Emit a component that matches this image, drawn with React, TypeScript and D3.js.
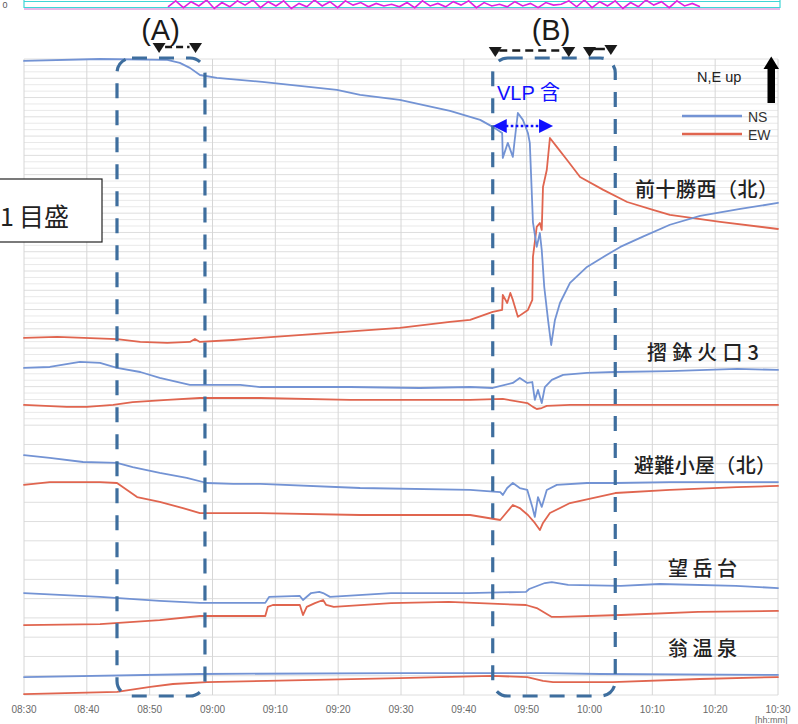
import React from 'react';
import * as d3 from 'd3';

// ---- time axis (minutes after 08:30) ----
const tickMinutes = [0, 10, 20, 30, 40, 50, 60, 70, 80, 90, 100, 110, 120];
const tickLabels = ['08:30', '08:40', '08:50', '09:00', '09:10', '09:20', '09:30', '09:40', '09:50', '10:00', '10:10', '10:20', '10:30'];

// ---- tilt traces: [minutes after 08:30, chart divisions] ----
const maetokachiNS: [number, number][] = [
  [0, 32.9], [12.1, 33.0], [22.8, 32.95], [24.8, 32.8], [26.4, 32.54], [28.0, 32.17], [30.7, 32.02],
  [37.9, 31.81], [49.8, 31.4], [53.5, 31.14], [59.8, 30.88], [67.8, 30.31], [72.6, 29.84], [74.6, 29.48],
  [76.1, 29.16], [76.2, 27.87], [77.0, 28.65], [77.8, 27.92], [78.1, 28.81], [78.6, 30.2], [79.4, 29.84],
  [80.2, 29.16], [80.5, 28.65], [81.0, 24.52], [81.6, 23.25], [82.1, 23.97], [82.4, 23.09], [82.8, 21.17],
  [83.4, 19.46], [83.9, 18.16], [84.5, 19.46], [85.3, 20.34], [86.9, 21.38], [89.6, 22.21], [92.2, 22.73],
  [94.9, 23.25], [98.5, 23.78], [102.8, 24.4], [107.6, 24.86], [114.0, 25.22], [120, 25.53],
];
const maetokachiEW: [number, number][] = [
  [0, 18.53], [5.3, 18.58], [14.8, 18.47], [18.5, 18.32], [22.8, 18.27], [26.4, 18.32], [27.2, 18.47],
  [28.0, 18.32], [33.3, 18.42], [37.6, 18.53], [48.7, 18.79], [59.8, 19.05], [67.8, 19.36], [71.0, 19.46],
  [74.6, 19.88], [76.1, 19.98], [76.2, 20.76], [76.9, 20.34], [77.4, 20.86], [77.8, 20.5], [78.6, 19.62],
  [80.2, 19.98], [80.9, 20.5], [81.0, 22.73], [81.6, 24.29], [82.1, 24.49], [82.4, 24.13], [82.6, 26.36],
  [83.2, 27.24], [83.7, 28.9], [84.8, 28.44], [86.4, 27.77], [88.5, 26.88], [92.2, 26.21], [96.0, 25.58],
  [100.1, 25.17], [102.8, 24.91], [110.8, 24.55], [120, 24.18],
];
const suribachiNS: [number, number][] = [
  [0, 16.97], [4.1, 17.02], [8.9, 17.28], [12.1, 17.23], [14.8, 16.97], [18.5, 16.76], [21.6, 16.45],
  [26.4, 16.09], [30.7, 16.09], [34.4, 16.09], [37.6, 15.98], [51.9, 15.98], [63.0, 15.93], [71.0, 15.98],
  [74.6, 15.93], [77.8, 16.19], [78.9, 16.45], [80.1, 16.19], [80.9, 16.24], [81.3, 15.31], [81.8, 15.83],
  [82.4, 15.15], [82.9, 15.98], [84.0, 16.35], [85.8, 16.61], [89.6, 16.71], [94.1, 16.76], [102.8, 16.81],
  [113.5, 16.92], [120, 16.87],
];
const suribachiEW: [number, number][] = [
  [0, 15.05], [6.8, 14.95], [10.0, 14.95], [14.2, 15.05], [17.3, 15.2], [22.8, 15.31], [28.0, 15.41],
  [37.6, 15.41], [51.9, 15.31], [71.0, 15.31], [76.2, 15.36], [80.1, 15.15], [81.0, 14.95], [81.6, 14.84],
  [82.4, 14.89], [83.2, 15.0], [86.9, 15.05], [97.6, 15.05], [120, 15.05],
];
const hinangoyaNS: [number, number][] = [
  [0, 12.45], [4.1, 12.3], [9.4, 12.09], [14.8, 12.04], [17.3, 11.83], [21.6, 11.52], [25.9, 11.26],
  [29.1, 11.0], [33.3, 10.95], [37.6, 10.95], [53.5, 10.74], [71.0, 10.64], [75.8, 10.53], [76.2, 10.38],
  [76.9, 10.74], [77.8, 11.0], [78.9, 10.74], [80.1, 10.64], [80.9, 9.76], [81.3, 9.24], [81.8, 10.27],
  [82.4, 9.76], [83.2, 10.64], [84.8, 10.9], [89.6, 11.0], [94.1, 11.0], [102.8, 11.05], [113.5, 11.05],
  [120, 11.05],
];
const hinangoyaEW: [number, number][] = [
  [0, 10.9], [4.1, 11.05], [12.1, 11.05], [14.8, 11.0], [16.4, 10.64], [18.0, 10.27], [21.6, 10.02],
  [25.3, 9.7], [28.0, 9.44], [33.3, 9.44], [37.6, 9.44], [53.5, 9.34], [71.0, 9.34], [75.8, 9.08],
  [77.8, 9.86], [78.9, 9.7], [80.2, 9.34], [81.3, 8.93], [82.1, 8.56], [82.6, 8.93], [83.7, 9.44],
  [86.9, 9.96], [94.1, 10.48], [102.8, 10.64], [113.5, 10.79], [120, 10.85],
];
const bogakudaiNS: [number, number][] = [
  [0, 5.29], [12.1, 5.09], [21.6, 4.88], [28.0, 4.78], [38.4, 4.78], [39.0, 5.09], [43.9, 5.14],
  [44.4, 4.93], [45.7, 5.29], [47.0, 5.35], [47.6, 5.29], [48.7, 5.09], [58.4, 5.29], [70.7, 5.29],
  [79.9, 5.35], [80.4, 5.5], [82.9, 5.81], [84.0, 5.86], [86.6, 5.71], [95.0, 5.66], [101.2, 5.76],
  [113.3, 5.66], [120, 5.55],
];
const bogakudaiEW: [number, number][] = [
  [0, 3.63], [12.1, 3.68], [21.6, 3.89], [28.0, 4.1], [38.4, 4.1], [38.8, 4.57], [39.6, 4.67],
  [43.9, 4.67], [44.4, 4.15], [45.0, 4.57], [46.3, 4.77], [47.6, 4.93], [48.1, 4.67], [49.3, 4.57],
  [58.4, 4.77], [67.6, 4.83], [79.9, 4.67], [81.6, 4.51], [84.0, 4.05], [85.3, 4.05], [95.0, 4.15],
  [107.3, 4.31], [120, 4.36],
];
const okinaNS: [number, number][] = [
  [0, 0.93], [28.0, 1.09], [59.8, 1.14], [82.6, 1.14], [91.7, 1.09], [120, 1.04],
];
const okinaEW: [number, number][] = [
  [0, 0.05], [14.8, 0.16], [20.1, 0.42], [23.7, 0.57], [29.1, 0.67], [38.7, 0.73], [59.8, 0.88],
  [74.6, 0.99], [80.1, 0.93], [82.6, 0.73], [84.2, 0.67], [93.7, 0.67], [107.6, 0.83], [120, 0.93],
];

// station names and the division their label sits on
const stationNames = ['前十勝西（北）', '摺鉢火口3', '避難小屋（北）', '望岳台', '翁温泉'];
const stationLabelDiv = [25.84, 17.38, 11.52, 6.18, 2.02];
const stationLabelStart = [635, 647, 634, 668, 668];
const stationLabelWidth = [143, 112, 142, 69, 69];

// event windows (minutes) and onset/offset markers
const windowA = [14.8, 28.8];
const windowB = [74.6, 94.1];
const markersA = [21.5, 27.3];
const markersB = [75.0, 86.7, 90.0, 93.4];
const vlpSpan = [74.6, 84.2];

// fragment of the panel above (amplitude 0..1)
const upperStrip = [
  0.2, 0.9, 0.1, 0.8, 0.3, 1.0, 0.0, 0.7, 0.2, 0.9, 0.4, 1.0, 0.1, 0.8, 0.3, 0.9, 0.0, 0.6,
  0.2, 1.0, 0.3, 0.8, 0.1, 0.9, 0.4, 0.7, 0.2, 0.6, 0.3, 0.5, 0.2, 0.7, 0.1, 0.9, 0.3, 0.6,
  0.2, 0.8, 0.4, 0.9, 0.1, 0.7, 0.3, 0.5, 0.2, 0.8, 0.3, 0.6, 0.1, 0.7, 0.4, 0.5,
  0.9, 0.2, 1.0, 0.1, 0.8, 0.3, 0.9, 0.0, 0.7, 0.2, 1.0, 0.4, 0.8, 0.1, 0.9, 0.3, 0.6, 0.2,
];

const NS_COLOR = '#7393d4';
const EW_COLOR = '#e0654f';
const BOX_COLOR = '#3e6e9e';

const x = d3.scaleLinear().domain([0, 120]).range([24, 778]);
const y = d3.scaleLinear().domain([0, 33]).range([695, 59]);
const line = d3.line<[number, number]>().x(d => x(d[0])).y(d => y(d[1]));

const traces: { data: [number, number][]; color: string }[] = [
  { data: maetokachiEW, color: EW_COLOR },
  { data: maetokachiNS, color: NS_COLOR },
  { data: suribachiNS, color: NS_COLOR },
  { data: suribachiEW, color: EW_COLOR },
  { data: hinangoyaNS, color: NS_COLOR },
  { data: hinangoyaEW, color: EW_COLOR },
  { data: bogakudaiNS, color: NS_COLOR },
  { data: bogakudaiEW, color: EW_COLOR },
  { data: okinaNS, color: NS_COLOR },
  { data: okinaEW, color: EW_COLOR },
];

const CJK = '"Noto Sans CJK JP", "Noto Sans", sans-serif';
const SANS = '"Liberation Sans", Arial, "Noto Sans CJK JP", sans-serif';

function DownTri({ cx, top }: { cx: number; top: number }) {
  return <polygon points={`${cx - 6.5},${top} ${cx + 6.5},${top} ${cx},${top + 10}`} fill="#1a1a1a" />;
}

function DashedWindow({ range }: { range: number[] }) {
  const x0 = x(range[0]);
  const x1 = x(range[1]);
  const y0 = y(33) - 1;
  const y1 = y(0) + 1;
  return (
    <rect x={x0} y={y0} width={x1 - x0} height={y1 - y0} rx={15} ry={15}
      fill="none" stroke={BOX_COLOR} strokeWidth={3.2} strokeDasharray="15 12" />
  );
}

export default function App() {
  // gridlines: dense in the upper panel, one per division below
  const hLines: { v: number; light: boolean }[] = [];
  for (let i = 0; i <= 33; i++) hLines.push({ v: i, light: false });
  for (let i = 14; i < 33; i++) {
    hLines.push({ v: i + 1 / 3, light: true });
    hLines.push({ v: i + 2 / 3, light: true });
  }
  const stripX = d3.scaleLinear().domain([0, upperStrip.length - 1]).range([168, 700]);
  const stripY = d3.scaleLinear().domain([0, 1]).range([8.5, 0]);
  const stripLine = d3.line<number>().x((_, i) => stripX(i)).y(v => stripY(v));

  return (
    <svg width={798} height={724} style={{ position: 'absolute', left: 0, top: 0, background: '#fff' }}>
      <rect x={0} y={0} width={798} height={724} fill="#fff" />

      {/* panel above */}
      <text x={5} y={8} fontSize={9} fill="#555" fontFamily={SANS} textAnchor="middle">0</text>
      <line x1={24} x2={780} y1={1.5} y2={1.5} stroke="#3fd6d6" strokeWidth={1.2} />
      <line x1={24} x2={780} y1={7.5} y2={7.5} stroke="#3fd6d6" strokeWidth={1.2} />
      <line x1={24} x2={24} y1={0} y2={8} stroke="#3fd6d6" strokeWidth={1.2} />
      <line x1={780} x2={780} y1={0} y2={8} stroke="#3fd6d6" strokeWidth={1.2} />
      <line x1={24} x2={780} y1={9} y2={9} stroke="#d070d0" strokeWidth={1} />
      <path d={stripLine(upperStrip) || ''} fill="none" stroke="#e020e0" strokeWidth={1.6} />

      {/* grid */}
      {hLines.map((h, i) => (
        <line key={'h' + i} x1={x(0)} x2={x(120)} y1={y(h.v)} y2={y(h.v)}
          stroke={h.light ? '#e9e9e9' : '#dedede'} strokeWidth={1} />
      ))}
      {tickMinutes.map(m => (
        <line key={'v' + m} x1={x(m)} x2={x(m)} y1={y(33)} y2={y(0)} stroke="#d6d6d6" strokeWidth={1} />
      ))}

      {/* tick labels */}
      {tickMinutes.map((m, i) => (
        <text key={'t' + m} x={x(m)} y={713} fontSize={10} fill="#6a6a6a" fontFamily={SANS} textAnchor="middle">
          {tickLabels[i]}
        </text>
      ))}
      <text x={755} y={723} fontSize={9} fill="#6a6a6a" fontFamily={SANS}>[hh:mm]</text>

      {/* traces */}
      {traces.map((t, i) => (
        <path key={'tr' + i} d={line(t.data) || ''} fill="none" stroke={t.color} strokeWidth={1.8}
          strokeLinejoin="round" strokeLinecap="round" />
      ))}

      {/* station labels */}
      {stationNames.map((n, i) => (
        <text key={n} x={stationLabelStart[i]} y={y(stationLabelDiv[i])} fontSize={20} fill="#222"
          fontFamily={CJK} fontWeight={500} textLength={stationLabelWidth[i]} lengthAdjust="spacing">
          {n}
        </text>
      ))}

      {/* scale box */}
      <rect x={-2} y={179} width={104} height={63} fill="#fff" stroke="#222" strokeWidth={1.2} />
      <text x={0} y={226} fontSize={25} fill="#222" fontFamily={CJK}>1</text>
      <text x={19} y={226} fontSize={25} fill="#222" fontFamily={CJK}>目盛</text>

      {/* event windows */}
      <DashedWindow range={windowA} />
      <DashedWindow range={windowB} />

      <text x={(x(windowA[0]) + x(windowA[1])) / 2 - 0.5} y={40} fontSize={29} fill="#1a1a1a"
        fontFamily={SANS} textAnchor="middle">(A)</text>
      <text x={551} y={40} fontSize={29} fill="#1a1a1a" fontFamily={SANS} textAnchor="middle">(B)</text>

      <line x1={x(markersA[0]) + 6} x2={x(markersA[1]) - 6} y1={47} y2={47} stroke="#1a1a1a"
        strokeWidth={2.5} strokeDasharray="7 4" />
      {markersA.map(m => <DownTri key={'a' + m} cx={x(m)} top={43} />)}
      <line x1={x(markersB[0]) + 4} x2={x(markersB[1]) - 5} y1={50.5} y2={50.5} stroke="#1a1a1a"
        strokeWidth={2.5} strokeDasharray="8 5" />
      <line x1={x(markersB[2]) + 3} x2={x(markersB[3]) - 6} y1={49} y2={49} stroke="#1a1a1a" strokeWidth={2.5} />
      {markersB.map((m, i) => <DownTri key={'b' + m} cx={x(m)} top={i === 3 ? 45 : 47} />)}

      {/* VLP annotation */}
      <text x={497} y={100} fontSize={20} fill="#1010ff" fontFamily={SANS}>VLP 含</text>
      <line x1={x(vlpSpan[0]) + 13} x2={x(vlpSpan[1]) - 13} y1={126} y2={126} stroke="#1010ff"
        strokeWidth={2.6} strokeDasharray="2.6 2.4" />
      <polygon points={`${x(vlpSpan[0])},126 ${x(vlpSpan[0]) + 14},119 ${x(vlpSpan[0]) + 14},133`} fill="#1010ff" />
      <polygon points={`${x(vlpSpan[1])},126 ${x(vlpSpan[1]) - 14},119 ${x(vlpSpan[1]) - 14},133`} fill="#1010ff" />

      {/* orientation + legend */}
      <text x={697} y={82} fontSize={14.5} fill="#222" fontFamily={SANS}>N,E up</text>
      <rect x={767.5} y={67} width={7.5} height={36} fill="#000" />
      <polygon points="763.5,69 771.25,56.5 779,69" fill="#000" />
      <line x1={682} x2={742} y1={116} y2={116} stroke={NS_COLOR} strokeWidth={2.6} />
      <line x1={682} x2={742} y1={134} y2={134} stroke={EW_COLOR} strokeWidth={2.6} />
      <text x={748} y={122} fontSize={14} fill="#333" fontFamily={SANS}>NS</text>
      <text x={748} y={140} fontSize={14} fill="#333" fontFamily={SANS}>EW</text>
    </svg>
  );
}
